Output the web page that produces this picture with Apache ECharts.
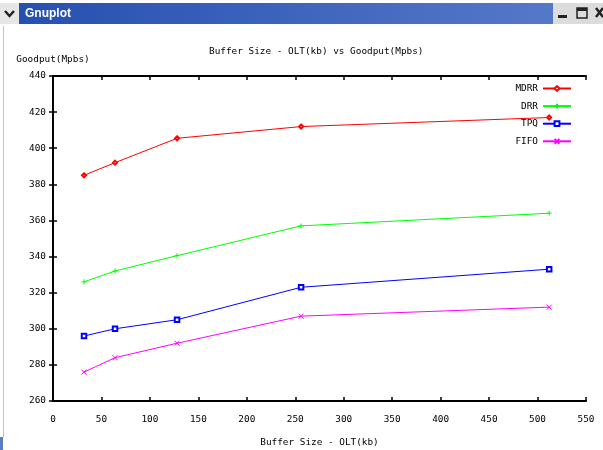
<!DOCTYPE html>
<html>
<head>
<meta charset="utf-8">
<script src="https://cdn.jsdelivr.net/npm/echarts@6/dist/echarts.min.js"></script>
<style>
html,body{margin:0;padding:0;background:#fff;}
#c{width:603px;height:450px;}
</style>
</head>
<body>
<div id="c"></div>
<script>
const bufferSizes = [32, 64, 128, 256, 512];
const mdrr = [385, 392, 405.5, 412, 417];
const drr  = [326, 332, 340.5, 357, 364];
const tpq  = [296, 300, 305, 323, 333];
const fifo = [276, 284, 292, 307, 312];
const seriesNames = ['MDRR', 'DRR', 'TPQ', 'FIFO'];
const seriesColors = ['#ff0000', '#00ff00', '#0000ff', '#ff00ff'];
const chartTitle = 'Buffer Size - OLT(kb) vs Goodput(Mpbs)';
const xName = 'Buffer Size - OLT(kb)';
const yName = 'Goodput(Mpbs)';
const windowTitle = 'Gnuplot';

const FONT = 'DejaVu Sans Mono';
const FS = 9.4;
const pair = (ys) => bufferSizes.map((x, i) => [x, ys[i]]);
const plusPath = 'path://M5 0L5 10M0 5L10 5';
const crossPath = 'path://M0 0L10 10M10 0L0 10';
const symbols = ['emptyDiamond', plusPath, 'emptyRect', crossPath];
const symbolSizes = [4, 5, 4.5, 5];
const datas = [mdrr, drr, tpq, fifo];

const chart = echarts.init(document.getElementById('c'), null, {renderer: 'canvas'});

const axisCommon = {
  axisLine: {show: true, lineStyle: {color: '#000', width: 2}},
  axisTick: {show: true, inside: true, length: 4, lineStyle: {color: '#000', width: 1.5}},
  splitLine: {show: false},
};
const txt = {fontFamily: FONT, fontSize: FS, color: '#000'};

chart.setOption({
  animation: false,
  backgroundColor: '#fff',
  title: {
    text: chartTitle, left: 204, top: 42,
    textStyle: Object.assign({fontWeight: 'normal'}, txt)
  },
  legend: {
    orient: 'vertical', right: 26, top: 79, align: 'right',
    itemWidth: 28, itemHeight: 6, itemGap: 8.6,
    textStyle: txt,
    data: seriesNames
  },
  grid: {left: 53, right: 17, top: 76, bottom: 49, containLabel: false, outerBoundsMode: 'none'},
  xAxis: [
    Object.assign({
      type: 'value', min: 0, max: 550, interval: 50, position: 'bottom',
      name: xName, nameLocation: 'middle', nameGap: 37,
      nameTextStyle: txt,
      axisLabel: Object.assign({margin: 14}, txt)
    }, axisCommon),
    Object.assign({
      type: 'value', min: 0, max: 550, interval: 50, position: 'top',
      axisLabel: {show: false}
    }, axisCommon)
  ],
  yAxis: [
    Object.assign({
      type: 'value', min: 260, max: 440, interval: 20, position: 'left',
      name: yName, nameLocation: 'end', nameGap: 12,
      nameTextStyle: txt,
      axisLabel: Object.assign({margin: 7}, txt)
    }, axisCommon),
    Object.assign({
      type: 'value', min: 260, max: 440, interval: 20, position: 'right',
      axisLabel: {show: false}
    }, axisCommon)
  ],
  series: seriesNames.map((n, i) => ({
    name: n, type: 'line', xAxisIndex: 0, yAxisIndex: 0,
    data: pair(datas[i]),
    symbol: symbols[i], symbolSize: symbolSizes[i], showSymbol: true,
    lineStyle: {color: seriesColors[i], width: 1},
    itemStyle: {color: seriesColors[i], borderColor: seriesColors[i], borderWidth: 1},
    emphasis: {disabled: true}
  })),
  graphic: [
    {type: 'rect', shape: {x: 0, y: 3, width: 19, height: 21}, style: {fill: '#e6e6e6'}},
    {type: 'polyline', shape: {points: [[5, 11], [9.5, 16], [14, 11]]}, style: {stroke: '#222', lineWidth: 2.5, fill: null}},
    {type: 'rect', shape: {x: 19, y: 3, width: 534, height: 21},
      style: {fill: new echarts.graphic.LinearGradient(0, 0, 1, 0, [
        {offset: 0, color: '#2650b0'}, {offset: 1, color: '#5578c8'}])}},
    {type: 'text', left: 25, top: 8,
      style: {text: windowTitle, fill: '#fff', font: 'bold 12px "Liberation Sans"'}},
    {type: 'rect', shape: {x: 553, y: 3, width: 50, height: 21}, style: {fill: '#dcdcdc'}},
    {type: 'rect', shape: {x: 558, y: 15, width: 9, height: 3}, style: {fill: '#222'}},
    {type: 'rect', shape: {x: 577, y: 8, width: 10, height: 10}, style: {fill: 'none', stroke: '#222', lineWidth: 1.5}},
    {type: 'rect', shape: {x: 577, y: 8, width: 10, height: 3}, style: {fill: '#222'}},
    {type: 'polyline', shape: {points: [[596, 8], [603, 17]]}, style: {stroke: '#222', lineWidth: 2.5}},
    {type: 'polyline', shape: {points: [[603, 8], [596, 17]]}, style: {stroke: '#222', lineWidth: 2.5}},
    {type: 'line', shape: {x1: 3.5, y1: 26, x2: 3.5, y2: 437}, style: {stroke: '#c4c4c4', lineWidth: 1}},
    {type: 'rect', shape: {x: 0, y: 437, width: 3, height: 13}, style: {fill: '#5a7cc0'}}
  ]
});
</script>
</body>
</html>
